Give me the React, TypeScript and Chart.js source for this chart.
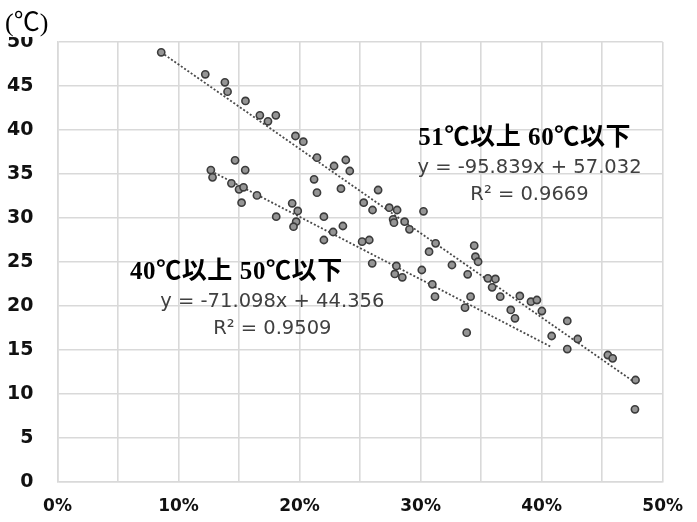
import React, { useEffect, useRef } from "react";
import { Chart, registerables } from "chart.js";

Chart.register(...registerables);

// 51℃以上 60℃以下 (x in %, y in ℃)
const upperX = [
  8.57, 12.21, 13.83, 14.05, 15.53, 16.72, 17.39, 18.04, 19.66, 20.31,
  21.44, 22.85, 23.82, 24.15, 21.2, 21.44, 23.42, 25.3, 26.49, 26.03,
  27.41, 28.06, 27.73, 27.8, 28.68, 29.08, 30.24, 31.24, 30.7, 32.59,
  34.43, 34.53, 34.75, 33.89, 35.56, 36.18, 35.91, 36.58, 38.2, 39.12,
  39.61, 40.02, 37.45, 42.12, 42.98, 42.12, 45.47, 45.87, 47.76, 47.71,
];
const upperY = [
  48.83, 46.33, 45.42, 44.36, 43.3, 41.67, 40.99, 41.67, 39.32, 38.67,
  36.86, 35.91, 36.59, 35.34, 34.4, 32.88, 33.33, 31.74, 33.18, 30.91,
  31.17, 30.91, 29.85, 29.47, 29.58, 28.71, 30.76, 27.12, 26.17, 24.66,
  26.86, 25.6, 25.03, 23.6, 23.14, 23.07, 22.12, 21.06, 21.14, 20.49,
  20.68, 19.43, 19.55, 18.3, 16.25, 15.11, 14.43, 14.05, 11.59, 8.26,
];

// 40℃以上 50℃以下
const lowerX = [
  12.67, 12.81, 14.67, 15.51, 14.37, 15.0, 15.37, 15.21, 16.48, 18.07,
  19.39, 19.85, 19.72, 19.5, 22.01, 23.58, 22.77, 22.01, 25.17, 25.76,
  26.0, 28.0, 27.87, 28.49, 30.1, 30.97, 31.19, 34.13, 33.67, 33.81,
  37.8, 40.83,
];
const lowerY = [
  35.45, 34.62, 36.55, 35.45, 33.94, 33.26, 33.49, 31.74, 32.57, 30.15,
  31.67, 30.8, 29.58, 29.01, 30.15, 29.09, 28.41, 27.5, 27.31, 27.5,
  24.85, 24.55, 23.64, 23.26, 24.09, 22.46, 21.06, 21.06, 19.81, 16.97,
  18.6, 16.59,
];

const seriesNames = ["51℃以上 60℃以下", "40℃以上 50℃以下"];
const upperFit = { slope: -95.839, intercept: 57.032, r2: "0.9669" };
const lowerFit = { slope: -71.098, intercept: 44.356, r2: "0.9509" };

const unitLabel = "(℃)";

export default function App() {
  const ref = useRef<HTMLCanvasElement>(null);

  useEffect(() => {
    if (!ref.current) return;
    const pts = (xs: number[], ys: number[]) => xs.map((x, i) => ({ x, y: ys[i] }));
    const fitLine = (xs: number[], fit: { slope: number; intercept: number }) => {
      const lo = Math.min(...xs);
      const hi = Math.max(...xs);
      return [
        { x: lo, y: (fit.slope * lo) / 100 + fit.intercept },
        { x: hi, y: (fit.slope * hi) / 100 + fit.intercept },
      ];
    };
    const eqText = (f: { slope: number; intercept: number }) =>
      `y = ${f.slope.toFixed(3)}x + ${f.intercept.toFixed(3)}`;

    const annot = {
      id: "annot",
      afterDraw(chart: any) {
        const { ctx, scales } = chart;
        const xs = scales.x;
        const ys = scales.y;
        ctx.save();
        ctx.textAlign = "center";
        ctx.textBaseline = "middle";
        const blocks = [
          { name: seriesNames[0], fit: upperFit, x: 38.6, y: 38.98, ex: 39.0, ey: 35.68, ry: 32.6 },
          { name: seriesNames[1], fit: lowerFit, x: 14.78, y: 23.75, ex: 17.75, ey: 20.45, ry: 17.39 },
        ];
        for (const b of blocks) {
          ctx.fillStyle = "#000";
          ctx.font = "bold 25px 'Liberation Serif', 'Noto Sans CJK JP', serif";
          try {
            (ctx as any).letterSpacing = "0.6px";
          } catch (e) {}
          ctx.fillText(b.name, xs.getPixelForValue(b.x), ys.getPixelForValue(b.y));
          try {
            (ctx as any).letterSpacing = "0px";
          } catch (e) {}
          ctx.fillStyle = "#404040";
          ctx.font = "19.5px 'DejaVu Sans', sans-serif";
          ctx.fillText(eqText(b.fit), xs.getPixelForValue(b.ex), ys.getPixelForValue(b.ey));
          ctx.fillText(`R² = ${b.fit.r2}`, xs.getPixelForValue(b.ex), ys.getPixelForValue(b.ry));
        }
        // unit label
        ctx.fillStyle = "#fff";
        ctx.fillRect(0, 0, 56, 37);
        ctx.fillStyle = "#000";
        ctx.textAlign = "left";
        ctx.font = "26px 'Liberation Serif', 'Noto Sans CJK JP', serif";
        ctx.fillText(unitLabel, 5, 24);
        ctx.restore();
      },
    };

    const pointStyle = {
      pointRadius: 3.6,
      pointHoverRadius: 3.6,
      pointBackgroundColor: "#959595",
      pointBorderColor: "#3c3c3c",
      pointBorderWidth: 1.6,
      showLine: false,
    };
    const lineStyle = {
      showLine: true,
      pointRadius: 0,
      borderColor: "#4a4a4a",
      borderWidth: 1.8,
      borderDash: [2, 2],
      fill: false,
    };

    const chart = new Chart(ref.current, {
      type: "scatter",
      data: {
        datasets: [
          { label: seriesNames[0], data: pts(upperX, upperY), ...pointStyle },
          { label: seriesNames[1], data: pts(lowerX, lowerY), ...pointStyle },
          { label: "fit1", data: fitLine(upperX, upperFit), ...lineStyle },
          { label: "fit2", data: fitLine(lowerX, lowerFit), ...lineStyle },
        ] as any,
      },
      options: {
        animation: false,
        responsive: false,
        layout: { padding: { top: 42, right: 22, left: 0, bottom: 0 } },
        plugins: { legend: { display: false }, tooltip: { enabled: false } },
        scales: {
          x: {
            type: "linear",
            min: 0,
            max: 50,
            afterFit: (s: any) => {
              s.height = 40;
            },
            ticks: {
              stepSize: 5,
              autoSkip: false,
              maxRotation: 0,
              padding: 14,
              color: "#111",
              font: { family: "'DejaVu Sans', sans-serif", size: 17, weight: "bold" },
              callback: (v: any) => (Number(v) % 10 === 0 ? `${v}%` : ""),
            },
            grid: { color: "#d9d9d9", lineWidth: 1.6, drawTicks: false },
            border: { color: "#d9d9d9", width: 1.6 },
          },
          y: {
            type: "linear",
            min: 0,
            max: 50,
            afterFit: (s: any) => {
              s.width = 57.5;
            },
            ticks: {
              stepSize: 5,
              padding: 24,
              color: "#111",
              font: { family: "'DejaVu Sans', sans-serif", size: 19, weight: "bold" },
            },
            grid: { color: "#d9d9d9", lineWidth: 1.6, drawTicks: false },
            border: { color: "#d9d9d9", width: 1.6 },
          },
        },
      } as any,
      plugins: [annot],
    });
    return () => chart.destroy();
  }, []);

  return (
    <div style={{ position: "absolute", left: 0, top: 0, width: 697, height: 522, background: "#fff" }}>
      <canvas ref={ref} width={697} height={522} style={{ display: "block" }} />
    </div>
  );
}
